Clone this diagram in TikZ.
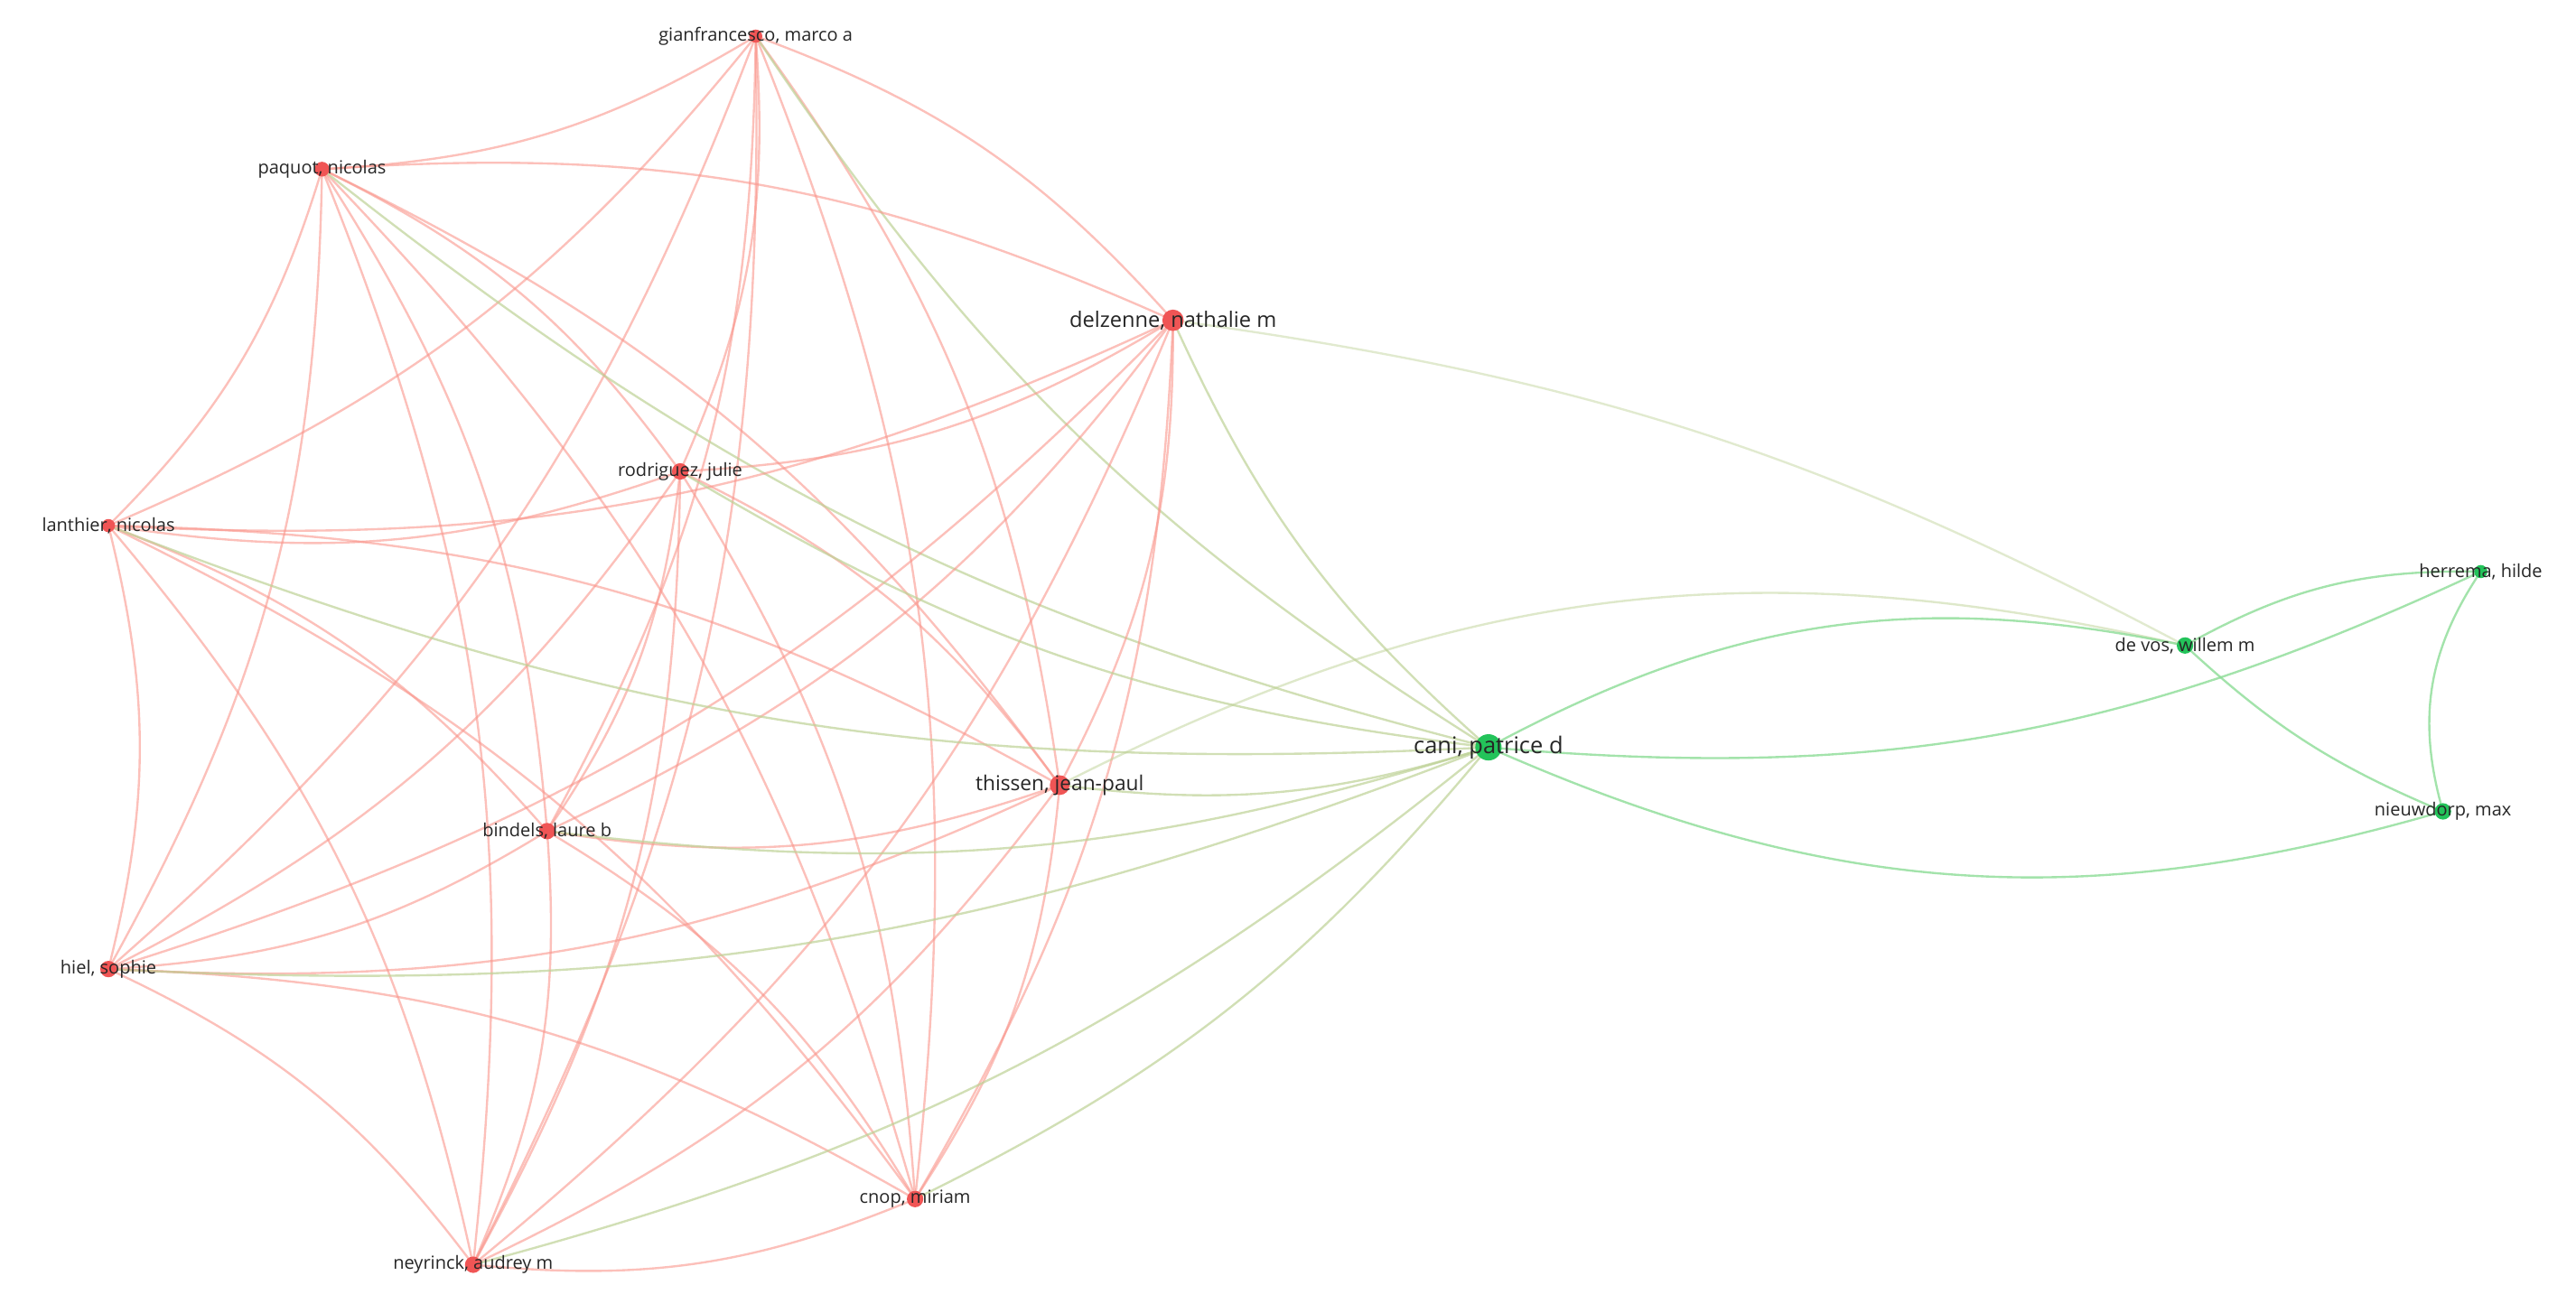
\documentclass[tikz,border=0pt]{standalone}
\usepackage{fontspec}
\setmainfont{Open Sans}
\definecolor{rn}{RGB}{240,85,85}
\definecolor{gn}{RGB}{35,195,90}
\definecolor{re}{RGB}{250,150,140}
\definecolor{ge}{RGB}{140,220,150}
\definecolor{me}{RGB}{190,210,150}
\tikzset{
 redE/.style={draw=re,line width=1.3pt,opacity=0.6},
 grE/.style={draw=ge,line width=1.3pt,opacity=0.8},
 mixE/.style={draw=me,line width=1.3pt,opacity=0.7},
 rdot/.style={circle,fill=rn,inner sep=0pt,minimum size=#1},
 gdot/.style={circle,fill=gn,inner sep=0pt,minimum size=#1},
 lab/.style={font=\fontsize{11}{11}\selectfont,text=black!85}
}
\begin{document}
\begin{tikzpicture}[x=1pt,y=-1pt]
\useasboundingbox[fill=white] (0,0) rectangle (1568,799);
\coordinate (gi) at (460,22);
\coordinate (pa) at (196,103);
\coordinate (de) at (714,195);
\coordinate (ro) at (414,287);
\coordinate (la) at (66,320);
\coordinate (th) at (645,478);
\coordinate (bi) at (333,506);
\coordinate (hi) at (66,590);
\coordinate (cn) at (557,730);
\coordinate (ne) at (288,770);
\coordinate (ca) at (906,455);
\coordinate (dv) at (1330,393);
\coordinate (he) at (1510,348);
\coordinate (ni) at (1487,494);
\foreach \a [count=\i] in {gi,pa,de,ro,la,th,bi,hi,cn,ne}{
  \foreach \b [count=\j] in {gi,pa,de,ro,la,th,bi,hi,cn,ne}{
    \ifnum\j>\i \draw[redE] (\a) to[bend left=14] (\b); \fi
  }
  \draw[mixE] (\a) to[bend right=12] (ca);
}
\draw[mixE,opacity=0.45] (de) to[bend left=10] (dv);
\draw[mixE,opacity=0.5] (th) to[bend left=20] (dv);
\foreach \a/\b/\c in {ca/dv/20,ca/he/-15,ca/ni/-20,dv/he/15,dv/ni/-10,he/ni/-25}
  \draw[grE] (\a) to[bend left=\c] (\b);
\node[rdot=8pt] (ngi) at (gi) {};
\node[rdot=9pt] (npa) at (pa) {};
\node[rdot=13pt] (nde) at (de) {};
\node[rdot=10pt] (nro) at (ro) {};
\node[rdot=8pt] (nla) at (la) {};
\node[rdot=12pt] (nth) at (th) {};
\node[rdot=10pt] (nbi) at (bi) {};
\node[rdot=10pt] (nhi) at (hi) {};
\node[rdot=10pt] (ncn) at (cn) {};
\node[rdot=10pt] (nne) at (ne) {};
\node[gdot=16pt] (nca) at (ca) {};
\node[gdot=10pt] (ndv) at (dv) {};
\node[gdot=8pt] (nhe) at (he) {};
\node[gdot=10pt] (nni) at (ni) {};
\node[lab] (lgi) at (gi) {gianfrancesco, marco a};
\node[lab] (lpa) at (pa) {paquot, nicolas};
\node[lab,font=\fontsize{13}{13}\selectfont] (lde) at (de) {delzenne, nathalie m};
\node[lab] (lro) at (ro) {rodriguez, julie};
\node[lab] (lla) at (la) {lanthier, nicolas};
\node[lab,font=\fontsize{12.5}{12.5}\selectfont] (lth) at (th) {thissen, jean-paul};
\node[lab] (lbi) at (bi) {bindels, laure b};
\node[lab] (lhi) at (hi) {hiel, sophie};
\node[lab] (lcn) at (cn) {cnop, miriam};
\node[lab] (lne) at (ne) {neyrinck, audrey m};
\node[lab,font=\fontsize{14}{14}\selectfont] (lca) at (ca) {cani, patrice d};
\node[lab] (ldv) at (dv) {de vos, willem m};
\node[lab] (lhe) at (he) {herrema, hilde};
\node[lab] (lni) at (ni) {nieuwdorp, max};
\end{tikzpicture}
\end{document}
